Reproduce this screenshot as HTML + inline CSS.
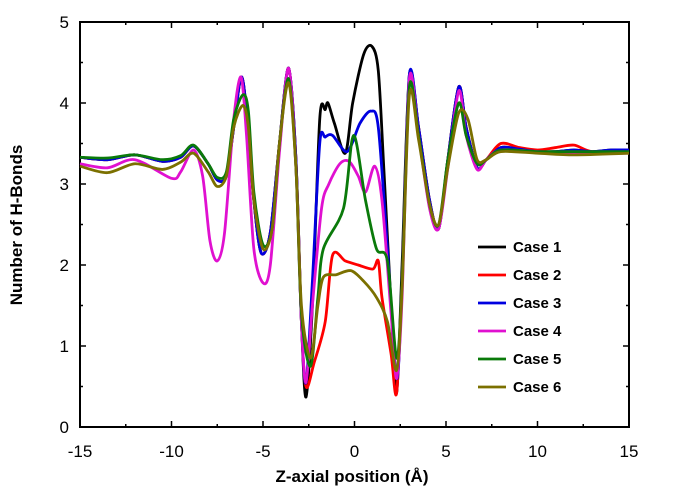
<!DOCTYPE html>
<html><head><meta charset="utf-8"><style>
body{margin:0;background:#fff}
svg{display:block;font-family:"Liberation Sans",Arial,sans-serif}
</style></head><body>
<svg id="s" width="673" height="501" xmlns="http://www.w3.org/2000/svg">
<g id="ax"></g>
<g id="lines" fill="none" stroke-width="2.8" stroke-linejoin="round"></g>
<g id="leg"></g>
<text x="352" y="482" text-anchor="middle" font-size="17" font-weight="bold">Z-axial position (Å)</text>
<text transform="translate(22,225) rotate(-90)" text-anchor="middle" font-size="17" font-weight="bold">Number of H-Bonds</text>
</svg>
<script>
const X=x=>80+(x+15)*18.3, Y=y=>427-y*81;
const ns="http://www.w3.org/2000/svg";
function el(p,t,a,txt){const e=document.createElementNS(ns,t);for(const k in a)e.setAttribute(k,a[k]);if(txt!=null)e.textContent=txt;p.appendChild(e);return e;}
const ax=document.getElementById('ax');
let d="";
for(let i=-15;i<=15;i+=2.5){const px=X(i),L=(i%5==0)?6:3;d+=`M${px},427v${-L}M${px},22v${L}`;}
for(let j=0;j<=5;j+=0.5){const py=Y(j),L=(j%1==0)?6:3;d+=`M80,${py}h${L}M629,${py}h${-L}`;}
el(ax,'path',{d:d,stroke:'#000','stroke-width':1.5,fill:'none'});
el(ax,'rect',{x:80,y:22,width:549,height:405,fill:'none',stroke:'#000','stroke-width':2});
for(let i=-15;i<=15;i+=5)el(ax,'text',{x:X(i),y:457,'text-anchor':'middle','font-size':17},String(i));
for(let j=0;j<=5;j++)el(ax,'text',{x:69,y:Y(j)+6,'text-anchor':'end','font-size':17},j);
const base=[[-15,3.33],[-13.5,3.3],[-12,3.36],[-10.5,3.28],[-9.5,3.33],[-8.8,3.47],[-8,3.25],[-7.5,3.05],[-7,3.1],[-6.6,3.7],[-6.2,4.32],[-5.9,3.9],[-5.5,2.8],[-5.1,2.15],[-4.6,2.4],[-4.1,3.5],[-3.6,4.43],[-3.2,3.3],[-2.9,1.3]];
const rbase=[[3.0,4.35],[3.5,3.7],[4.1,2.8],[4.6,2.45],[5.1,3.3],[5.7,4.2],[6.1,3.7],[6.7,3.2],[7.2,3.3],[8,3.45],[9,3.43],[10,3.4],[11,3.4],[12,3.42],[13,3.4],[14,3.42],[15,3.42]];
const S={
'#000':[...base,[-2.65,0.37],[-2.3,1.5],[-1.9,3.8],[-1.6,3.92],[-1.45,4.0],[-1.1,3.75],[-0.5,3.38],[-0.1,4.0],[0.5,4.6],[0.95,4.7],[1.3,4.4],[1.6,3.2],[2.0,1.5],[2.3,0.42],[2.6,2.0],...rbase],
'#f00':[...base,[-2.65,0.5],[-2.2,0.8],[-1.6,1.3],[-1.2,2.12],[-0.5,2.05],[0.2,2.0],[1.0,1.95],[1.3,2.05],[1.5,1.6],[2.0,0.9],[2.3,0.42],[2.6,1.8],[3.0,4.3],[3.5,3.7],[4.1,2.8],[4.6,2.45],[5.1,3.3],[5.7,4.2],[6.1,3.7],[6.7,3.2],[7.2,3.3],[8,3.5],[9,3.45],[10,3.42],[11,3.45],[12,3.48],[13,3.4],[15,3.42]],
'#0000e0':[...base,[-2.65,0.55],[-2.3,1.8],[-1.9,3.5],[-1.6,3.58],[-1.2,3.6],[-0.4,3.4],[0.3,3.75],[0.9,3.9],[1.3,3.7],[1.8,2.2],[2.3,0.6],[2.6,1.8],...rbase],
'#e010d0':[[-15,3.25],[-13.5,3.2],[-12,3.3],[-10,3.07],[-9.5,3.15],[-8.8,3.42],[-8.3,3.1],[-7.9,2.3],[-7.5,2.05],[-7.1,2.4],[-6.6,3.8],[-6.2,4.32],[-5.9,3.6],[-5.5,2.2],[-5.0,1.78],[-4.6,2.0],[-4.1,3.4],[-3.6,4.43],[-3.2,3.2],[-2.9,1.3],[-2.65,0.55],[-2.3,1.5],[-1.8,2.7],[-1.4,3.0],[-0.8,3.25],[-0.3,3.28],[0.2,3.1],[0.6,2.9],[1.1,3.22],[1.5,2.8],[2.0,1.4],[2.3,0.6],[2.6,1.6],[3.0,4.3],[3.5,3.6],[4.1,2.7],[4.6,2.45],[5.1,3.2],[5.7,4.15],[6.1,3.6],[6.7,3.18],[7.2,3.3],[8,3.42],[10,3.4],[12,3.38],[15,3.38]],
'#0a7a0a':[[-15,3.33],[-13.5,3.32],[-12,3.36],[-10.5,3.3],[-9.5,3.35],[-8.8,3.48],[-8,3.25],[-7.5,3.08],[-7,3.15],[-6.6,3.8],[-6.1,4.1],[-5.8,3.9],[-5.5,2.9],[-5.0,2.25],[-4.5,2.45],[-4.1,3.5],[-3.6,4.3],[-3.2,3.2],[-2.9,1.4],[-2.4,0.75],[-2.0,1.6],[-1.7,2.2],[-0.6,2.7],[-0.05,3.6],[0.6,2.8],[1.2,2.2],[1.8,2.05],[2.3,0.85],[2.6,1.8],[3.0,4.2],[3.5,3.6],[4.1,2.75],[4.6,2.5],[5.1,3.3],[5.7,4.0],[6.1,3.6],[6.7,3.25],[7.2,3.3],[8,3.42],[10,3.4],[12,3.4],[15,3.4]],
'#7b7000':[[-15,3.22],[-13.5,3.14],[-12,3.25],[-10.5,3.18],[-9.5,3.27],[-8.8,3.38],[-8,3.15],[-7.5,2.97],[-7,3.1],[-6.6,3.7],[-6.1,3.97],[-5.8,3.7],[-5.5,2.8],[-5.0,2.2],[-4.5,2.45],[-4.1,3.5],[-3.6,4.25],[-3.2,3.2],[-2.9,1.5],[-2.4,0.85],[-2.0,1.5],[-1.7,1.85],[-1.0,1.88],[-0.2,1.93],[0.5,1.8],[1.2,1.6],[1.8,1.3],[2.3,0.7],[2.6,1.7],[3.0,4.1],[3.5,3.55],[4.1,2.75],[4.6,2.5],[5.1,3.2],[5.7,3.88],[6.2,3.8],[6.7,3.3],[7.2,3.3],[8,3.4],[10,3.38],[12,3.36],[15,3.38]]};
function cr(p){p=p.map(q=>[X(q[0]),Y(q[1])]);let s=`M${p[0]}`;for(let i=0;i<p.length-1;i++){const a=p[i-1]||p[i],b=p[i],c=p[i+1],e=p[i+2]||c;const t=0.15;s+=`C${b[0]+(c[0]-a[0])*t},${b[1]+(c[1]-a[1])*t} ${c[0]-(e[0]-b[0])*t},${c[1]-(e[1]-b[1])*t} ${c[0]},${c[1]}`;}return s;}
const lg=document.getElementById('lines'),leg=document.getElementById('leg');
let k=0;for(const c in S){el(lg,'path',{d:cr(S[c]),stroke:c});const y=247+k*28;el(leg,'path',{d:`M478,${y}H506`,stroke:c,'stroke-width':2.8});el(leg,'text',{x:513,y:y+5,'font-size':15,'font-weight':'bold'},'Case '+(k+1));k++;}
</script>
</body></html>
